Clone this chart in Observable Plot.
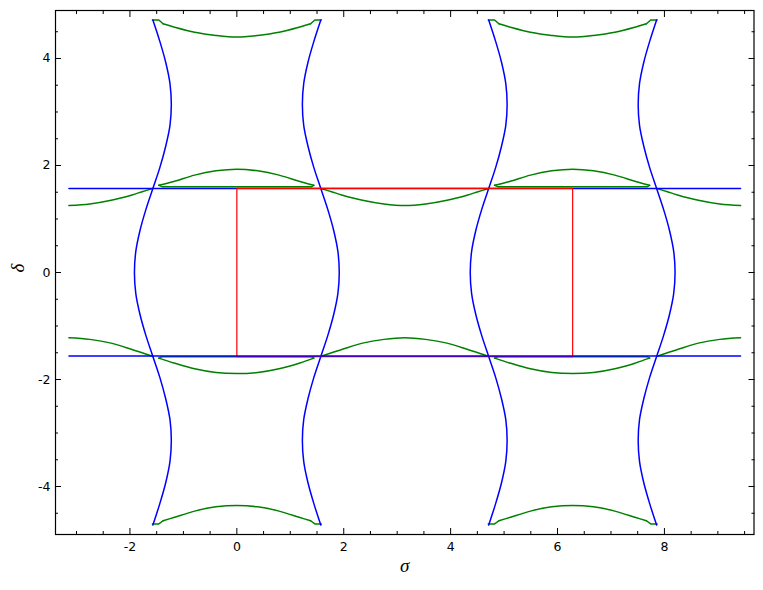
<!DOCTYPE html>
<html>
<head>
<meta charset="utf-8">
<script src="https://cdn.jsdelivr.net/npm/d3@7"></script>
<script src="https://cdn.jsdelivr.net/npm/@observablehq/plot@0.6"></script>
<style>
  html, body { margin: 0; padding: 0; background: white; }
  #chart svg { display: block; }
</style>
</head>
<body>
<div id="chart"></div>
<script>
// ---- ticks ----
const xTicks = [-2, 0, 2, 4, 6, 8];
const yTicks = [-4, -2, 0, 2, 4];
const xMinor = [-3, -2.5, -1.5, -1, -0.5, 0.5, 1, 1.5, 2.5, 3, 3.5, 4.5, 5, 5.5, 6.5, 7, 7.5, 8.5, 9, 9.5];
const yMinor = [-4.5, -3.5, -3, -2.5, -1.5, -1, -0.5, 0.5, 1, 1.5, 2.5, 3, 3.5, 4.5];

// ---- blue near-vertical curves (read: sideways bulge along sigma vs delta) ----
const blueY = [-4.72, -4.32, -3.93, -3.53, -3.14, -2.75, -2.36, -1.96, -1.57, -1.18, -0.79, -0.39, 0, 0.39, 0.79, 1.18, 1.57, 1.96, 2.36, 2.75, 3.14, 3.53, 3.93, 4.32, 4.72];
const blueBulge = [0, -0.13, -0.24, -0.32, -0.345, -0.32, -0.24, -0.13, 0, 0.13, 0.24, 0.32, 0.345, 0.32, 0.24, 0.13, 0, -0.13, -0.24, -0.32, -0.345, -0.32, -0.24, -0.13, 0];
const blueCurveX = [-1.571, 1.571, 4.712, 7.854];
const blueCurveSide = [-1, 1, -1, 1];

// ---- blue horizontal lines ----
const blueLineX = [-3.142, 9.425];
const blueTopY = 1.571;
const blueBottomY = -1.562;

// ---- red rectangle ----
const redX = [0, 6.283];
const redY = [-1.571, 1.571];

// ---- green lenses at delta = ±pi/2 (arc + straight closing edge) ----
const lensArcDx = [-1.46, -1.18, -0.79, -0.39, 0, 0.39, 0.79, 1.18, 1.44];
const upperLensArcY = [1.63, 1.70, 1.82, 1.90, 1.93, 1.90, 1.82, 1.70, 1.63];
const lowerLensArcY = [-1.60, -1.69, -1.80, -1.87, -1.89, -1.87, -1.80, -1.69, -1.60];
const lensEdgeDx = [1.44, 1.40, -1.40, -1.46];
const upperLensEdgeY = [1.63, 1.605, 1.605, 1.63];
const lowerLensEdgeY = [-1.60, -1.575, -1.575, -1.60];
const lensCenters = [0, 6.283];

// ---- green valleys between crossings ----
const valleyDx = [-1.57, -1.37, -1.18, -0.79, -0.39, 0, 0.39, 0.79, 1.18, 1.37, 1.57];
const upperValleyY = [1.571, 1.51, 1.45, 1.35, 1.28, 1.25, 1.28, 1.35, 1.45, 1.51, 1.571];
const lowerValleyY = [-1.571, -1.50, -1.44, -1.32, -1.25, -1.22, -1.25, -1.32, -1.44, -1.50, -1.571];
const valleyCenters = [-3.142, 3.142, 9.425];

// ---- green caps near delta = ±3pi/2 (hooks + arc) ----
const capArcDx = [-1.38, -1.18, -0.79, -0.39, 0, 0.39, 0.79, 1.18, 1.38];
const topCapArcY = [4.65, 4.59, 4.49, 4.43, 4.40, 4.43, 4.49, 4.59, 4.65];
const bottomCapArcY = [-4.64, -4.58, -4.46, -4.38, -4.355, -4.38, -4.46, -4.58, -4.64];
const hookDx = [1.38, 1.46, 1.58];
const topHookY = [4.65, 4.72, 4.72];
const bottomHookY = [-4.64, -4.70, -4.70];
const capCenters = [0, 6.283];

// ---- build tables ----
const blueCurves = [];
blueCurveX.forEach((cx, i) => blueY.forEach((y, j) =>
  blueCurves.push({x: cx + blueCurveSide[i] * blueBulge[j], y, k: "b" + i})));

const greenSmooth = [];
const greenStraight = [];
lensCenters.forEach((cx, i) => {
  lensArcDx.forEach((dx, j) => greenSmooth.push({x: cx + dx, y: upperLensArcY[j], k: "lu" + i}));
  lensArcDx.forEach((dx, j) => greenSmooth.push({x: cx + dx, y: lowerLensArcY[j], k: "ll" + i}));
  lensEdgeDx.forEach((dx, j) => greenStraight.push({x: cx + dx, y: upperLensEdgeY[j], k: "eu" + i}));
  lensEdgeDx.forEach((dx, j) => greenStraight.push({x: cx + dx, y: lowerLensEdgeY[j], k: "el" + i}));
});
capCenters.forEach((cx, i) => {
  capArcDx.forEach((dx, j) => greenSmooth.push({x: cx + dx, y: topCapArcY[j], k: "ct" + i}));
  capArcDx.forEach((dx, j) => greenSmooth.push({x: cx + dx, y: bottomCapArcY[j], k: "cb" + i}));
  [1, -1].forEach(s => {
    hookDx.forEach((dx, j) => greenStraight.push({x: cx + s * dx, y: topHookY[j], k: "ht" + i + s}));
    hookDx.forEach((dx, j) => greenStraight.push({x: cx + s * dx, y: bottomHookY[j], k: "hb" + i + s}));
  });
});
valleyCenters.forEach((cx, i) => {
  valleyDx.forEach((dx, j) => {
    const x = cx + dx;
    if (x >= blueLineX[0] - 0.01 && x <= blueLineX[1] + 0.01) {
      greenSmooth.push({x, y: upperValleyY[j], k: "vu" + i});
      greenSmooth.push({x, y: lowerValleyY[j], k: "vl" + i});
    }
  });
});

const redRect = [
  {x: redX[0], y: redY[0]}, {x: redX[0], y: redY[1]},
  {x: redX[1], y: redY[1]}, {x: redX[1], y: redY[0]}, {x: redX[0], y: redY[0]}
];

const fmt = d => String(d);

const chart = Plot.plot({
  width: 763,
  height: 590,
  marginLeft: 55,
  marginRight: 9.5,
  marginTop: 10,
  marginBottom: 56,
  x: {domain: [-3.393, 9.676]},
  y: {domain: [-4.897, 4.897]},
  style: {fontFamily: "DejaVu Sans", fontSize: "12px", color: "black", background: "white"},
  marks: [
    Plot.line(greenSmooth, {x: "x", y: "y", z: "k", stroke: "#008000", strokeWidth: 1.5, curve: "catmull-rom"}),
    Plot.line(greenStraight, {x: "x", y: "y", z: "k", stroke: "#008000", strokeWidth: 1.5, curve: "linear"}),
    Plot.line(blueCurves, {x: "x", y: "y", z: "k", stroke: "#0000ff", strokeWidth: 1.5, curve: "catmull-rom"}),
    Plot.line(blueLineX.map(x => ({x, y: blueTopY})), {x: "x", y: "y", stroke: "#0000ff", strokeWidth: 1.5}),
    Plot.line(redRect, {x: "x", y: "y", stroke: "#ff0000", strokeWidth: 1.2}),
    Plot.line(blueLineX.map(x => ({x, y: blueBottomY})), {x: "x", y: "y", stroke: "#0000ff", strokeWidth: 1.5}),
    Plot.frame({stroke: "black", strokeWidth: 1.2}),
    // major ticks (inward)
    Plot.axisX(xTicks, {anchor: "bottom", tickSize: -6, fill: "none", label: null}),
    Plot.axisX(xTicks, {anchor: "top", tickSize: -6, fill: "none", label: null}),
    Plot.axisY(yTicks, {anchor: "left", tickSize: -6, fill: "none", label: null}),
    Plot.axisY(yTicks, {anchor: "right", tickSize: -6, fill: "none", label: null}),
    // minor ticks
    Plot.axisX(xMinor, {anchor: "bottom", tickSize: -3, fill: "none", label: null}),
    Plot.axisX(xMinor, {anchor: "top", tickSize: -3, fill: "none", label: null}),
    Plot.axisY(yMinor, {anchor: "left", tickSize: -3, fill: "none", label: null}),
    Plot.axisY(yMinor, {anchor: "right", tickSize: -3, fill: "none", label: null}),
    // tick labels
    Plot.axisX(xTicks, {anchor: "bottom", tickSize: 0, tickPadding: 8, tickFormat: fmt, label: null, fontSize: 12.5, fontFamily: "DejaVu Sans"}),
    Plot.axisY(yTicks, {anchor: "left", tickSize: 0, tickPadding: 5, tickFormat: fmt, label: null, fontSize: 12.5, fontFamily: "DejaVu Sans"}),
    // axis titles
    Plot.text(["σ"], {frameAnchor: "bottom", dy: 37, fontSize: 19, fontStyle: "italic", fontFamily: "Liberation Serif", fill: "black"}),
    Plot.text(["δ"], {frameAnchor: "left", dx: -38, rotate: -90, fontSize: 19, fontStyle: "italic", fontFamily: "Liberation Serif", fill: "black"})
  ]
});
document.getElementById("chart").appendChild(chart);
</script>
</body>
</html>
